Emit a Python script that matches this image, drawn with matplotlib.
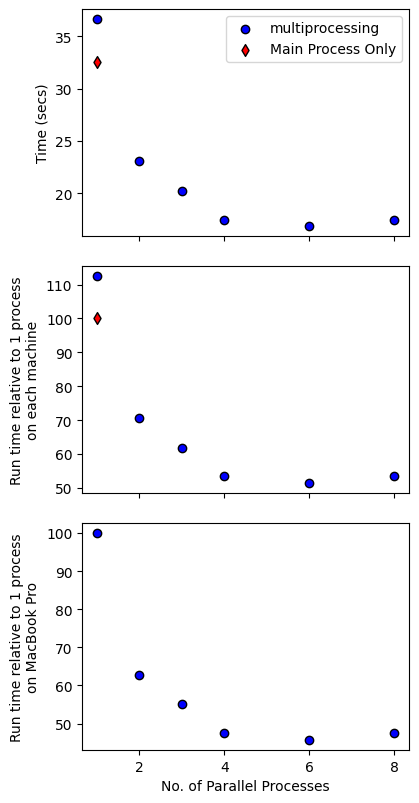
import matplotlib
matplotlib.use("Agg")
import matplotlib.pyplot as plt

procs = [1, 2, 3, 4, 6, 8]
time_secs = [36.62, 23.06, 20.2, 17.45, 16.88, 17.45]
main_proc = [1]
main_time = [32.55]
rel_each = [112.5, 70.6, 61.9, 53.5, 51.5, 53.5]
main_rel_each = [100]
rel_mac = [100, 62.7, 55.1, 47.5, 45.8, 47.5]

fig, axes = plt.subplots(3, 1, figsize=(4.19, 8.04), dpi=100, sharex=True)
ax1, ax2, ax3 = axes

ax1.scatter(procs, time_secs, c='blue', edgecolors='black', label='multiprocessing')
ax1.scatter(main_proc, main_time, c='red', marker='d', edgecolors='black', label='Main Process Only')
ax1.set_ylabel('Time (secs)')
ax1.legend(loc='upper right')

ax2.scatter(procs, rel_each, c='blue', edgecolors='black')
ax2.scatter(main_proc, main_rel_each, c='red', marker='d', edgecolors='black')
ax2.set_ylabel('Run time relative to 1 process\non each machine')

ax3.scatter(procs, rel_mac, c='blue', edgecolors='black')
ax3.set_ylabel('Run time relative to 1 process\non MacBook Pro')
ax3.set_xlabel('No. of Parallel Processes')
ax3.set_xticks([2, 4, 6, 8])

fig.subplots_adjust(left=0.196, right=0.976, top=0.9876, bottom=0.066, hspace=0.13)
fig.savefig('out.png', dpi=100)
